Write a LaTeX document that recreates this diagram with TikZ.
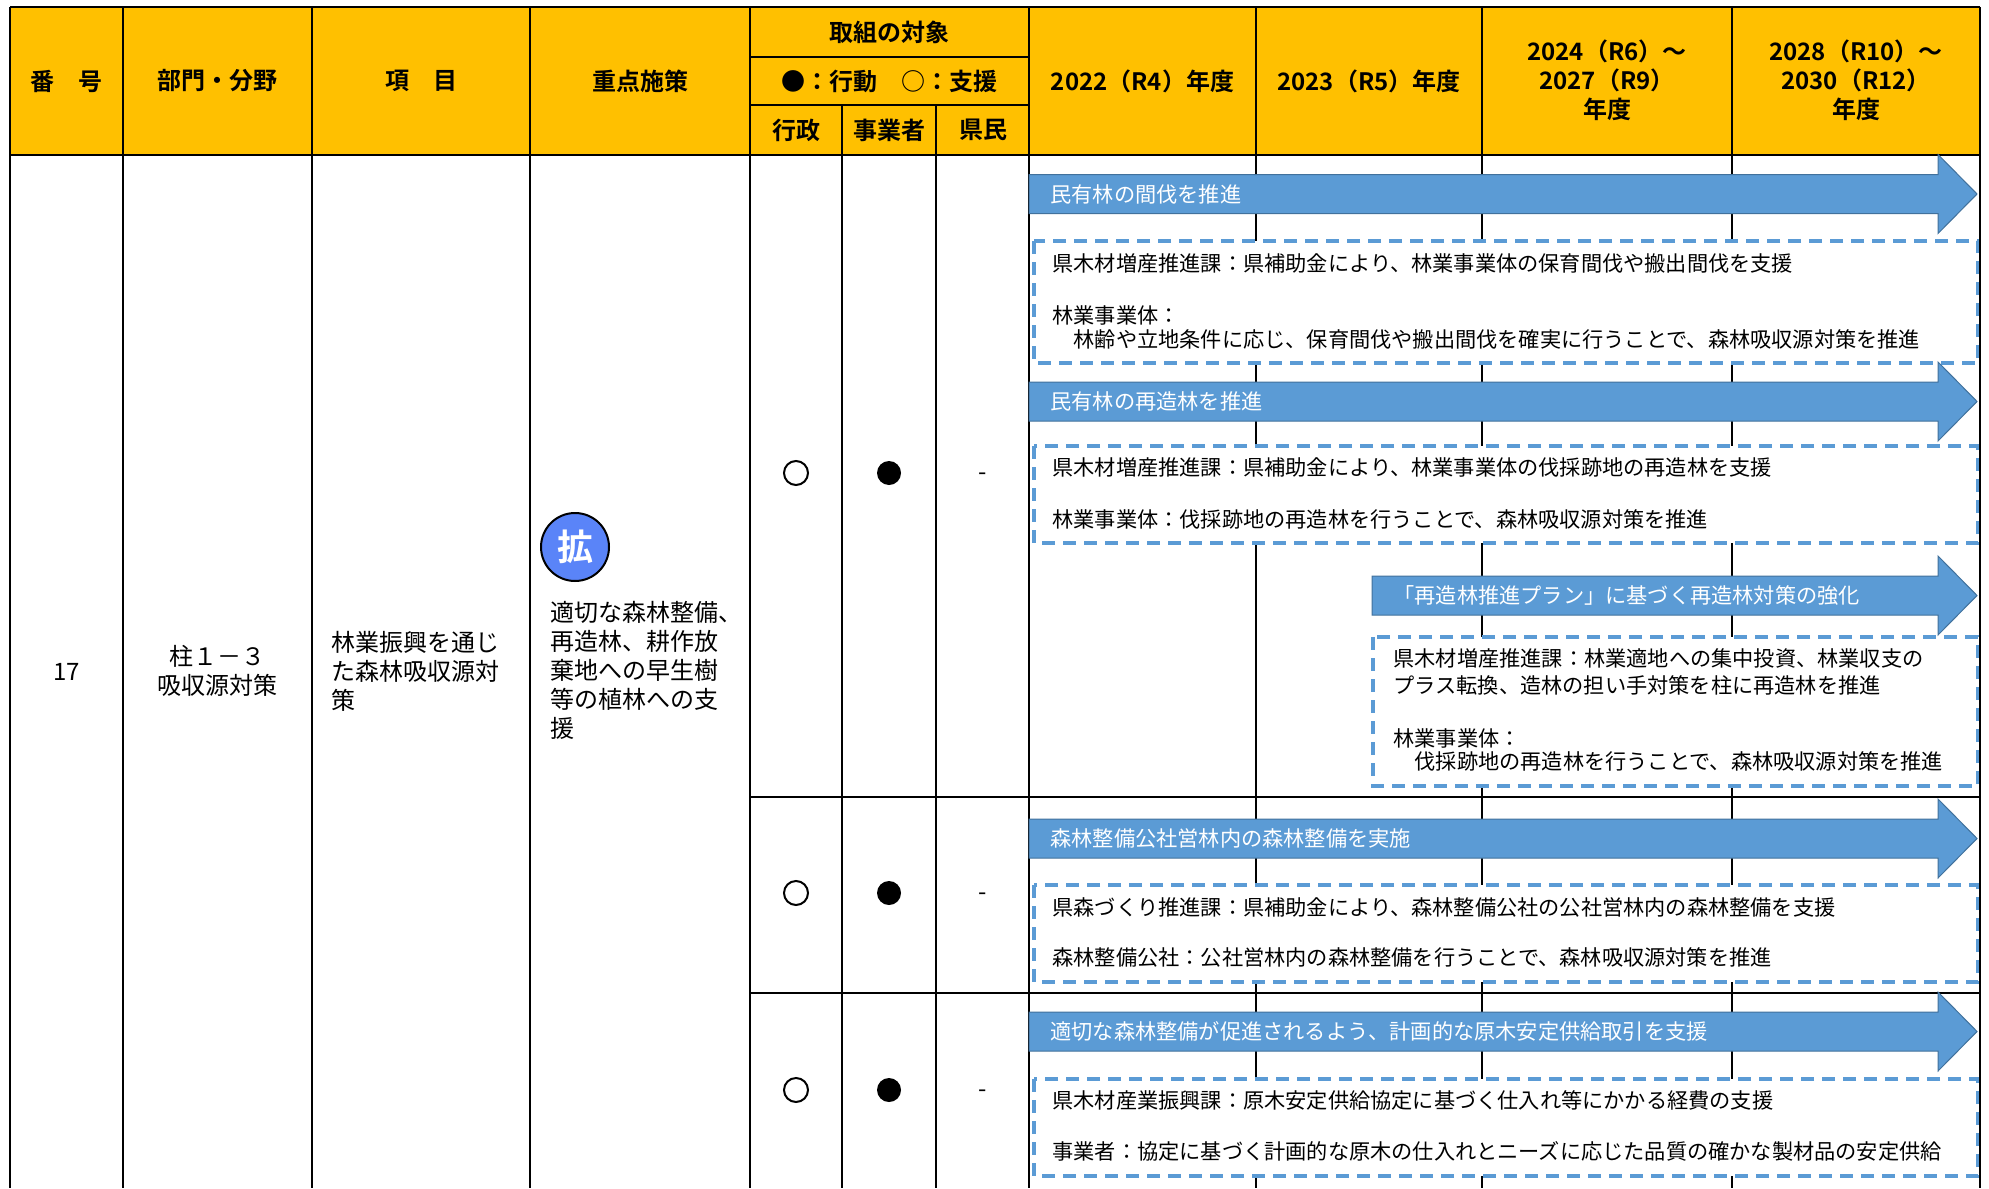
\documentclass[tikz,border=0pt]{standalone}
\usepackage{fontspec}
\setmainfont{Noto Sans CJK JP}[BoldFont={Noto Sans CJK JP Bold}]
\usetikzlibrary{positioning}
\definecolor{headgold}{HTML}{FFC000}
\definecolor{planblue}{HTML}{5B9BD5}
\definecolor{planedge}{HTML}{41719C}
\definecolor{badgeblue}{HTML}{5A84F8}
\tikzset{
grid line/.style={line width=1pt, black}, % table rules
head text/.style={font=\bfseries\fontsize{12}{14.5}\selectfont, align=center, inner sep=0pt},
body text/.style={font=\fontsize{12}{14.5}\selectfont, align=left, inner sep=0pt},
plan arrow/.style={fill=planblue, draw=planedge, line width=0.5pt},
arrow text/.style={font=\fontsize{10.6}{12}\selectfont, text=white, inner sep=0pt, anchor=west},
plan box/.style={draw=planblue, fill=white, line width=1.6pt, dash pattern=on 6.5pt off 4pt},
box text/.style={font=\fontsize{10.6}{12}\selectfont, inner sep=0pt, anchor=west},
mark open/.style={circle, draw, line width=1pt, minimum size=12pt, inner sep=0pt},
mark full/.style={circle, fill=black, minimum size=12pt, inner sep=0pt},
mark none/.style={font=\fontsize{12}{14.5}\selectfont, inner sep=0pt, text height=0.88em, text depth=0.12em},
badge/.style={circle, draw=black, line width=1pt, fill=badgeblue, minimum size=34pt, inner sep=0pt, text=white, font=\bfseries\fontsize{18}{18}\selectfont},
}
% #1 name, #2 left end, #3 middle height, #4 label
\newcommand{\planarrow}[4]{%
  \draw[plan arrow] (#2,#3-19.5) -- (1938,#3-19.5) -- (1938,#3-39.5) -- (1977,#3)
    -- (1938,#3+39.5) -- (1938,#3+19.5) -- (#2,#3+19.5) -- cycle;
  \node[arrow text] (#1) at (#2+21,#3) {#4};
}

\begin{document}
\begin{tikzpicture}[x=0.5pt, y=-0.5pt]
    \useasboundingbox (0,0) rectangle (1989,1188);
    % header
    \fill[headgold] (10,7) rectangle (1980,155);
    \foreach \x in {10,123,312,530,750,1029,1256,1482,1732,1980}
        \draw[grid line] (\x,7) -- (\x,155);
    \foreach \x in {842,936}
        \draw[grid line] (\x,105) -- (\x,155);
    \draw[grid line] (10,7) -- (1980,7);
    \draw[grid line] (750,57) -- (1029,57);
    \draw[grid line] (750,105) -- (1029,105);
    \draw[grid line] (10,155) -- (1980,155);

    \node[head text] (hdNo) at (66.5,81) {番　号};
    \node[head text] (hdField) at (217.5,81) {部門・分野};
    \node[head text] (hdItem) at (421,81) {項　目};
    \node[head text] (hdPolicy) at (640,81) {重点施策};
    \node[head text] (hdTarget) at (889.5,32) {取組の対象};
    \node[head text] (hdLegend) at (889.5,81) {●：行動　○：支援};
    \node[head text] (hdGov) at (796,130) {行政};
    \node[head text] (hdBiz) at (889,130) {事業者};
    \node[head text] (hdRes) at (983,130) {県民};
    \node[head text] (hdY22) at (1142.5,81) {2022（R4）年度};
    \node[head text] (hdY23) at (1369,81) {2023（R5）年度};
    \node[head text] (hdY24) at (1607,80) {2024（R6）～\\2027（R9）\\年度};
    \node[head text] (hdY28) at (1856,80) {2028（R10）～\\2030（R12）\\年度};

    % body rules
    \foreach \x in {10,123,312,530,750,842,936,1029,1256,1482,1732}
        \draw[grid line] (\x,155) -- (\x,1188);
    \draw[grid line] (750,797) -- (1980,797);
    \draw[grid line] (750,993) -- (1980,993);

    % left columns
    \node[body text] (cNo) at (66.5,672) {17};
    \node[body text, align=center] (cField) at (217.5,671) {柱１－３\\吸収源対策};
    \node[body text, anchor=west] (cItem) at (331,671) {林業振興を通じ\\た森林吸収源対\\策};
    \node[badge] (badge) at (575,547) {拡};
    \node[body text, anchor=west] (cPolicy) at (550,670) {適切な森林整備、\\再造林、耕作放\\棄地への早生樹\\等の植林への支\\援};

    % who acts
    \node[mark open] (gov1) at (796,473) {};
    \node[mark full] (biz1) at (889,473) {};
    \node[mark none] (res1) at (983,473) {-};
    \node[mark open] (gov2) at (796,893) {};
    \node[mark full] (biz2) at (889,893) {};
    \node[mark none] (res2) at (983,893) {-};
    \node[mark open] (gov3) at (796,1090) {};
    \node[mark full] (biz3) at (889,1090) {};
    \node[mark none] (res3) at (983,1090) {-};

    % schedule
    \planarrow{a1}{1029}{194}{民有林の間伐を推進}
    \draw[plan box] (1034,241) rectangle (1978,363);
    \node[box text] (b1a) at (1052,263) {県木材増産推進課：県補助金により、林業事業体の保育間伐や搬出間伐を支援};
    \node[box text] (b1b) at (1052,315) {林業事業体：};
    \node[box text] (b1c) at (1052,339) {　林齢や立地条件に応じ、保育間伐や搬出間伐を確実に行うことで、森林吸収源対策を推進};

    \planarrow{a2}{1029}{401.5}{民有林の再造林を推進}
    \draw[plan box] (1034,446) rectangle (1978,543);
    \node[box text] (b2a) at (1052,467) {県木材増産推進課：県補助金により、林業事業体の伐採跡地の再造林を支援};
    \node[box text] (b2b) at (1052,519) {林業事業体：伐採跡地の再造林を行うことで、森林吸収源対策を推進};

    \planarrow{a3}{1372}{595.5}{「再造林推進プラン」に基づく再造林対策の強化}
    \draw[plan box] (1373,637) rectangle (1978,786);
    \node[box text] (b3a) at (1393,658) {県木材増産推進課：林業適地への集中投資、林業収支の};
    \node[box text] (b3b) at (1393,685) {プラス転換、造林の担い手対策を柱に再造林を推進};
    \node[box text] (b3c) at (1393,738) {林業事業体：};
    \node[box text] (b3d) at (1393,761) {　伐採跡地の再造林を行うことで、森林吸収源対策を推進};

    \planarrow{a4}{1029}{838.5}{森林整備公社営林内の森林整備を実施}
    \draw[plan box] (1034,885) rectangle (1978,982);
    \node[box text] (b4a) at (1052,907) {県森づくり推進課：県補助金により、森林整備公社の公社営林内の森林整備を支援};
    \node[box text] (b4b) at (1052,957) {森林整備公社：公社営林内の森林整備を行うことで、森林吸収源対策を推進};

    \planarrow{a5}{1029}{1031.5}{適切な森林整備が促進されるよう、計画的な原木安定供給取引を支援}
    \draw[plan box] (1034,1079) rectangle (1978,1176);
    \node[box text] (b5a) at (1052,1100) {県木材産業振興課：原木安定供給協定に基づく仕入れ等にかかる経費の支援};
    \node[box text] (b5b) at (1052,1151) {事業者：協定に基づく計画的な原木の仕入れとニーズに応じた品質の確かな製材品の安定供給};

    \draw[grid line] (1980,155) -- (1980,1188);
\end{tikzpicture}
\end{document}
